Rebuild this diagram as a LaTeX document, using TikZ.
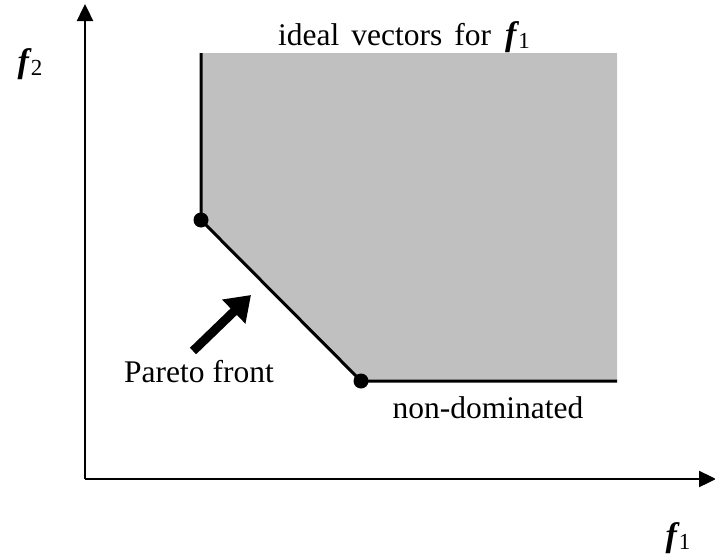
\documentclass[tikz,border=0pt]{standalone}
\usepackage{fontspec}
\setmainfont{Liberation Serif}
\usetikzlibrary{arrows.meta}
\definecolor{region}{RGB}{192,192,192}
\newcommand{\fvar}[1]{{\fontsize{34}{34}\selectfont\bfseries\itshape f}\kern2pt\raisebox{-3pt}{\fontsize{23}{23}\selectfont #1}}
\tikzset{
  lbl/.style={inner sep=0pt, font=\fontsize{31.5}{31.5}\selectfont, anchor=base},
  axis/.style={line width=2.4pt, -{Triangle[length=17pt,width=16pt]}},
  front/.style={line width=3pt},
  dot/.style={circle, fill=black, inner sep=0pt, minimum size=15pt},
  bigarrow/.style={line width=9pt, -{Triangle[length=24pt,width=32pt]}}
}
\begin{document}
\begin{tikzpicture}[x=1pt,y=-1pt]
\useasboundingbox (0,0) rectangle (715,554);
% shaded region
\fill[region] (201,53) -- (201,220) -- (361,381) -- (617,381) -- (617,53) -- cycle;
% axes
\coordinate (O) at (85,479);
\coordinate (Ytop) at (85,4);
\coordinate (Xend) at (716,479);
\draw[axis] (O) -- (Ytop);
\draw[axis] (O) -- (Xend);
% front
\coordinate (T) at (201,53);
\node[dot] (A) at (201,220) {};
\node[dot] (B) at (361,381) {};
\coordinate (R) at (617,381);
\draw[front] (T) -- (A.center) -- (B.center) -- (R);
% arrow
\coordinate (Ptail) at (193,351);
\coordinate (Phead) at (251,295);
\draw[bigarrow] (Ptail) -- (Phead);
% labels
\node[lbl] (ideal) at (404,45) {ideal\hspace{12pt}vectors\hspace{12pt}for\hspace{14pt}\fvar{1}};
\node[lbl] (pareto) at (199,382) {Pareto front};
\node[lbl] (nondom) at (488,418) {non-dominated};
\node[lbl] (f2) at (30,72) {\fvar{2}};
\node[lbl] (f1) at (678,546) {\fvar{1}};
\end{tikzpicture}
\end{document}
